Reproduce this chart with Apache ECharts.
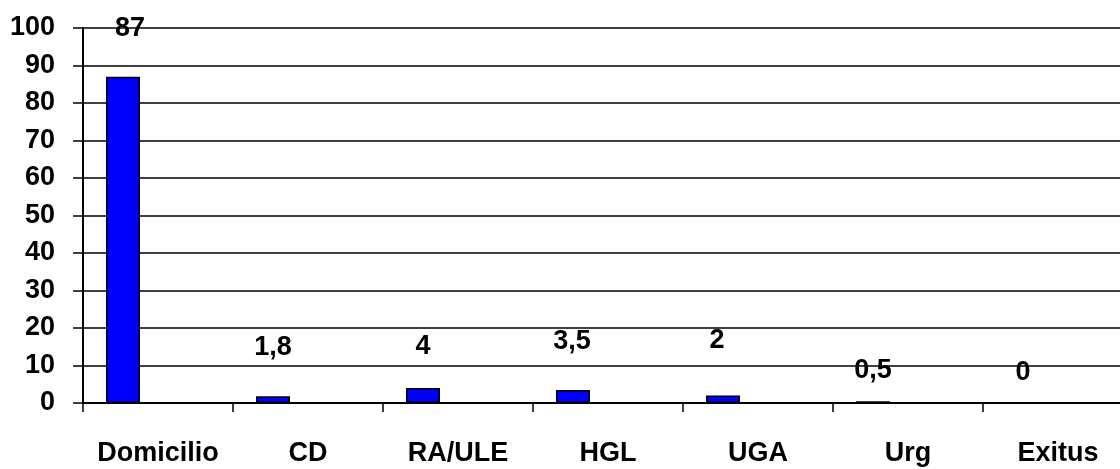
<!DOCTYPE html>
<html><head><meta charset="utf-8">
<script src="https://cdn.jsdelivr.net/npm/echarts@6/dist/echarts.min.js"></script>
<style>html,body{margin:0;padding:0;background:#fff;overflow:hidden;width:1120px;height:469px}#c{width:1133px;height:469px}</style>
</head><body><div id="c"></div>
<script>
const categories = ['Domicilio','CD','RA/ULE','HGL','UGA','Urg','Exitus'];
const values = [87, 1.8, 4, 3.5, 2, 0.5, 0];
const valueLabels = ['87','1,8','4','3,5','2','0,5','0'];
// manual label offsets as placed in the original (dx, dy)
const labelOffsets = [[7,-35],[0,-35],[0,-28],[-1,-35],[-6,-41],[0,-17],[0,-16]];

const chart = echarts.init(document.getElementById('c'));
const font = '"Liberation Sans", Arial, sans-serif';
chart.setOption({
  animation:false,
  grid:{left:83, right:0, top:28, bottom:66, containLabel:false, outerBoundsMode:'none'},
  xAxis:{type:'category', data:categories,
    axisLine:{lineStyle:{color:'#000', width:2}},
    axisTick:{show:true, length:9, lineStyle:{color:'#000', width:1.5}, alignWithLabel:false},
    axisLabel:{color:'#000', fontFamily:font, fontWeight:'bold', fontSize:27, margin:37, interval:0, hideOverlap:false}
  },
  yAxis:{type:'value', min:0, max:100, interval:10,
    axisLine:{show:true, lineStyle:{color:'#000', width:2}},
    axisTick:{show:true, length:10, inside:false, lineStyle:{color:'#000', width:1.5}},
    splitLine:{lineStyle:{color:'#000', width:1.5}},
    axisLabel:{color:'#000', fontFamily:font, fontWeight:'bold', fontSize:27, margin:28}
  },
  series:[
    {type:'bar', barWidth:34, barGap:'106%',
     data: values.map((v,i)=>({value:v, label:{offset:labelOffsets[i]}})),
     itemStyle:{color:'#0000FF', borderColor:'#000', borderWidth:1.5},
     label:{show:true, position:'top', distance:0, color:'#000', fontFamily:font, fontWeight:'bold', fontSize:27,
       formatter:p=>valueLabels[p.dataIndex]}
    },
    {type:'bar', barWidth:34, data: values.map(()=>null), silent:true}
  ]
});
</script></body></html>
